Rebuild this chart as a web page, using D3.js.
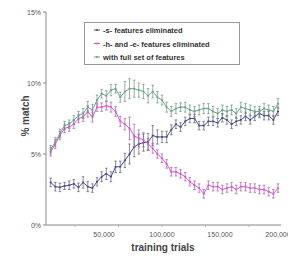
<!DOCTYPE html>
<html>
<head>
<meta charset="utf-8">
<script src="https://d3js.org/d3.v7.min.js"></script>
<style>
  body { margin: 0; background: #fff; }
  text { font-family: "Liberation Sans", Arial, sans-serif; }
</style>
</head>
<body>
<div id="chart"></div>
<script>
// trials: every 4,000 up to 200,000
var trials = d3.range(1, 51).map(function(i) { return i * 4000; });

// -s- features eliminated
var sElim = [3.0, 2.7, 2.65, 2.75, 2.8, 2.9, 2.65, 3.0, 2.7, 2.6,
             3.05, 3.4, 3.6, 3.4, 4.1, 4.1, 4.55, 5.0, 5.5, 5.7,
             5.8, 5.85, 6.3, 6.2, 6.2, 6.2, 6.7, 7.1, 6.9, 7.3,
             7.5, 7.5, 7.0, 7.0, 7.3, 7.3, 7.2, 7.55, 7.4, 7.1,
             7.3, 7.4, 7.65, 7.4, 7.65, 7.85, 7.7, 7.7, 7.4, 8.0];
var sErr = [0.3, 0.3, 0.3, 0.25, 0.3, 0.3, 0.3, 0.4, 0.35, 0.3,
            0.3, 0.35, 0.4, 0.35, 0.4, 0.4, 0.5, 0.7, 0.7, 0.7,
            0.6, 0.6, 0.7, 0.5, 0.4, 0.4, 0.35, 0.3, 0.3, 0.3,
            0.3, 0.3, 0.3, 0.3, 0.3, 0.3, 0.3, 0.3, 0.3, 0.3,
            0.3, 0.3, 0.3, 0.3, 0.3, 0.3, 0.3, 0.3, 0.3, 0.3];

// -h- and -e- features eliminated
var heElim = [5.15, 5.7, 6.3, 6.8, 6.9, 7.1, 7.5, 7.6, 8.0, 7.6,
              8.3, 8.3, 8.4, 8.3, 8.0, 7.3, 7.1, 6.8, 6.3, 6.1,
              6.0, 5.7, 5.4, 5.0, 4.7, 4.3, 3.75, 3.75, 3.6, 3.4,
              3.05, 2.8, 2.6, 2.2, 2.8, 2.7, 2.7, 2.5, 2.6, 2.7,
              2.5, 2.7, 2.7, 2.6, 2.6, 2.5, 2.5, 2.35, 2.2, 2.6];
var heErr = [0.3, 0.3, 0.3, 0.3, 0.3, 0.3, 0.3, 0.3, 0.4, 0.35,
             0.3, 0.3, 0.3, 0.35, 0.35, 0.35, 0.4, 0.8, 0.8, 0.6,
             0.5, 0.4, 0.35, 0.3, 0.3, 0.3, 0.3, 0.3, 0.3, 0.3,
             0.3, 0.3, 0.3, 0.3, 0.3, 0.3, 0.3, 0.3, 0.3, 0.3,
             0.3, 0.3, 0.3, 0.3, 0.3, 0.3, 0.3, 0.3, 0.3, 0.3];

// with full set of features
var fullSet = [5.3, 5.85, 6.45, 7.0, 7.1, 7.4, 7.7, 7.85, 8.3, 8.1,
               8.8, 9.25, 9.1, 9.5, 9.6, 9.0, 9.4, 9.6, 9.6, 9.5,
               9.4, 9.1, 9.4, 9.0, 8.8, 8.3, 8.0, 8.2, 8.3, 8.3,
               8.1, 8.0, 8.1, 8.2, 8.2, 8.0, 7.85, 8.1, 8.0, 8.1,
               7.85, 8.3, 8.2, 8.1, 8.0, 8.0, 8.2, 8.1, 8.0, 8.55];
var fullErr = [0.3, 0.3, 0.3, 0.3, 0.3, 0.3, 0.3, 0.35, 0.4, 0.4,
               0.35, 0.3, 0.35, 0.4, 0.3, 0.35, 0.7, 0.7, 0.6, 0.5,
               0.5, 0.5, 0.45, 0.4, 0.35, 0.35, 0.35, 0.35, 0.3, 0.35,
               0.35, 0.35, 0.35, 0.35, 0.35, 0.35, 0.35, 0.35, 0.35, 0.35,
               0.35, 0.35, 0.35, 0.35, 0.35, 0.35, 0.35, 0.35, 0.35, 0.35];

var yTicks = [0, 5, 10, 15];
var xLabelTicks = [50000, 100000, 150000, 200000];
var xMarkTicks = [25000, 62500, 100000, 137500, 175000];

var seriesNames = ["-s- features eliminated", "-h- and -e- features eliminated", "with full set of features"];
var seriesColors = ["#4a4a8c", "#e050e0", "#6aa58a"];
var errColors = ["#5c5c72", "#a060a0", "#6f8f80"];

var series = [
  { name: seriesNames[0], values: sElim, err: sErr, color: seriesColors[0], errColor: errColors[0] },
  { name: seriesNames[1], values: heElim, err: heErr, color: seriesColors[1], errColor: errColors[1] },
  { name: seriesNames[2], values: fullSet, err: fullErr, color: seriesColors[2], errColor: errColors[2] }
];

var width = 288, height = 256;
var x = d3.scaleLinear().domain([0, 200000]).range([46, 278]);
var y = d3.scaleLinear().domain([0, 15]).range([225, 12]);

var svg = d3.select("#chart").append("svg")
  .attr("width", width)
  .attr("height", height);

// y axis
svg.append("line")
  .attr("x1", 46).attr("x2", 46)
  .attr("y1", y(15)).attr("y2", y(0))
  .attr("stroke", "#888").attr("stroke-width", 1);
svg.selectAll(".ytick")
  .data(yTicks)
  .enter().append("line")
  .attr("x1", 43).attr("x2", 46)
  .attr("y1", function(d) { return y(d); })
  .attr("y2", function(d) { return y(d); })
  .attr("stroke", "#888");
svg.selectAll(".ylab")
  .data(yTicks)
  .enter().append("text")
  .attr("x", 41)
  .attr("y", function(d) { return y(d) + 2.5; })
  .attr("text-anchor", "end")
  .attr("font-size", 7)
  .attr("fill", "#555")
  .text(function(d) { return d + "%"; });

// x axis
svg.append("line")
  .attr("x1", 46).attr("x2", 281)
  .attr("y1", y(0)).attr("y2", y(0))
  .attr("stroke", "#888").attr("stroke-width", 1);
svg.selectAll(".xtick")
  .data(xMarkTicks)
  .enter().append("line")
  .attr("x1", function(d) { return x(d); })
  .attr("x2", function(d) { return x(d); })
  .attr("y1", y(0)).attr("y2", y(0) + 2)
  .attr("stroke", "#aaa");
svg.selectAll(".xlab")
  .data(xLabelTicks)
  .enter().append("text")
  .attr("x", function(d) { return x(d); })
  .attr("y", 237)
  .attr("text-anchor", "middle")
  .attr("font-size", 7)
  .attr("fill", "#555")
  .text(function(d) { return d3.format(",")(d); });

// axis titles
svg.append("text")
  .attr("x", 163).attr("y", 251)
  .attr("text-anchor", "middle")
  .attr("font-size", 10)
  .attr("font-weight", "bold")
  .attr("fill", "#444")
  .text("training trials");
svg.append("text")
  .attr("transform", "translate(29,116) rotate(-90)")
  .attr("text-anchor", "middle")
  .attr("font-size", 10)
  .attr("font-weight", "bold")
  .attr("fill", "#444")
  .text("% match");

// series
var line = d3.line()
  .x(function(d, i) { return x(trials[i]); })
  .y(function(d) { return y(d); });

series.forEach(function(s) {
  var g = svg.append("g");
  // error bars
  g.selectAll(".eb")
    .data(s.values)
    .enter().append("path")
    .attr("d", function(d, i) {
      var cx = x(trials[i]), top = y(d + s.err[i]), bot = y(d - s.err[i]);
      return "M" + cx + "," + top + "V" + bot +
             "M" + (cx - 1.3) + "," + top + "H" + (cx + 1.3) +
             "M" + (cx - 1.3) + "," + bot + "H" + (cx + 1.3);
    })
    .attr("stroke", s.errColor)
    .attr("stroke-width", 0.7)
    .attr("fill", "none");
  g.append("path")
    .datum(s.values)
    .attr("d", line)
    .attr("fill", "none")
    .attr("stroke", s.color)
    .attr("stroke-width", 1);
  g.selectAll(".mk")
    .data(s.values)
    .enter().append("rect")
    .attr("x", function(d, i) { return x(trials[i]) - 1; })
    .attr("y", function(d) { return y(d) - 0.8; })
    .attr("width", 2).attr("height", 1.6)
    .attr("fill", s.color);
});

// legend
var legend = svg.append("g");
legend.append("rect")
  .attr("x", 84.5).attr("y", 22.5)
  .attr("width", 155).attr("height", 42)
  .attr("fill", "#fff")
  .attr("stroke", "#999");
series.forEach(function(s, i) {
  var ly = 30 + i * 13.5;
  legend.append("line")
    .attr("x1", 94).attr("x2", 100)
    .attr("y1", ly).attr("y2", ly)
    .attr("stroke", s.color);
  legend.append("rect")
    .attr("x", 96).attr("y", ly - 0.8)
    .attr("width", 2).attr("height", 1.6)
    .attr("fill", s.color);
  legend.append("text")
    .attr("x", 103).attr("y", ly + 3)
    .attr("font-size", 7.5)
    .attr("font-weight", "bold")
    .attr("fill", "#333")
    .text(s.name);
});
</script>
</body>
</html>
